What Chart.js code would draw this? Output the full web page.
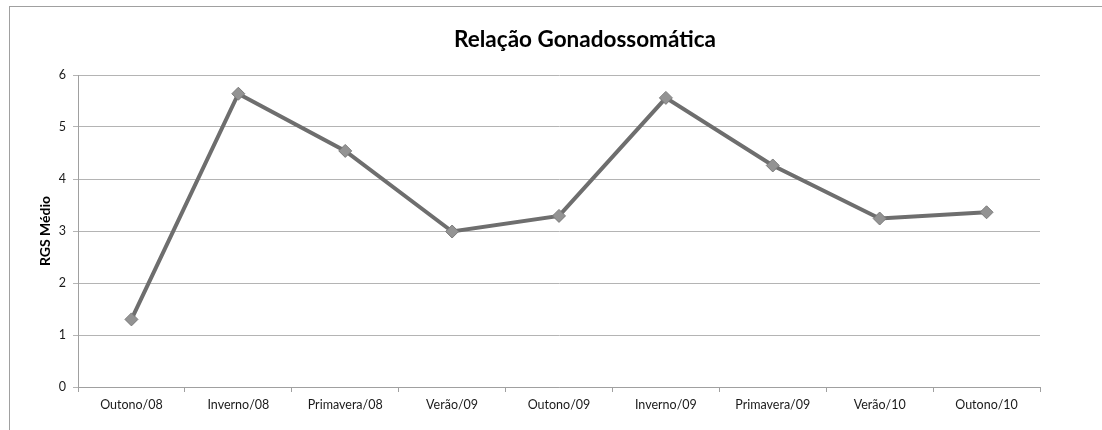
<!DOCTYPE html>
<html>
<head>
<meta charset="utf-8">
<script src="https://cdn.jsdelivr.net/npm/chart.js@4.4.0/dist/chart.umd.min.js"></script>
<style>
  html, body { margin: 0; padding: 0; background: #fff; overflow: hidden; }
  #frame { position: absolute; left: 9px; top: 6px; width: 1200px; height: 500px;
           border-left: 1px solid #a0a0a0; border-top: 1px solid #a0a0a0; }
  #wrap { position: absolute; left: 0; top: 0; width: 1102px; height: 430px; }
</style>
</head>
<body>
<div id="frame"></div>
<div id="wrap"><canvas id="rgsChart"></canvas></div>
<script>
// ---- data ----
var categories = ["Outono/08", "Inverno/08", "Primavera/08", "Verão/09", "Outono/09",
                  "Inverno/09", "Primavera/09", "Verão/10", "Outono/10"];
var rgsValues = [1.30, 5.64, 4.54, 2.99, 3.29, 5.56, 4.26, 3.24, 3.36];
var yTicks = [0, 1, 2, 3, 4, 5, 6];
var chartTitle = "Relação Gonadossomática";
var yAxisTitle = "RGS Médio";

// ---- styles ----
var lineColor = "#6e6e6e";
var markerColor = "#939393";
var gridColor = "#b4b4b4";
var axisColor = "#a0a0a0";
var labelFont = { family: "Lato", size: 12.5 };

// title is centred on the whole framed chart, which runs past the window
var titlePlugin = {
    id: "frameTitle",
    afterDraw: function (chart) {
        var ctx = chart.ctx;
        ctx.save();
        ctx.font = "bold 22.5px Lato";
        ctx.fillStyle = "#000";
        ctx.textAlign = "center";
        ctx.textBaseline = "alphabetic";
        ctx.fillText(chartTitle, 585, 47);
        ctx.restore();
    }
};

var ctx = document.getElementById("rgsChart").getContext("2d");
var rgsChart = new Chart(ctx, {
    type: "line",
    data: {
        labels: categories,
        datasets: [{
            label: yAxisTitle,
            data: rgsValues,
            borderColor: lineColor,
            borderWidth: 4,
            tension: 0,
            pointStyle: "rectRot",
            pointRadius: 6.5,
            pointBackgroundColor: markerColor,
            pointBorderColor: "#7a7a7a",
            pointBorderWidth: 1
        }]
    },
    options: {
        responsive: true,
        maintainAspectRatio: false,
        animation: false,
        layout: { padding: { left: 0, right: 62, top: 75, bottom: 0 } },
        plugins: {
            legend: { display: false },
            tooltip: { enabled: false },
            title: { display: false }
        },
        scales: {
            x: {
                type: "category",
                offset: true,
                afterFit: function (scale) { scale.height = 43; },
                grid: { offset: true, drawOnChartArea: false, drawTicks: true,
                        tickLength: 5, color: axisColor },
                border: { color: axisColor },
                ticks: { font: labelFont, color: "#1a1a1a", padding: 5, maxRotation: 0, autoSkip: false }
            },
            y: {
                min: yTicks[0],
                max: yTicks[yTicks.length - 1],
                afterFit: function (scale) { scale.width = 78; },
                afterBuildTicks: function (scale) {
                    scale.ticks = yTicks.map(function (v) { return { value: v }; });
                },
                grid: { color: gridColor, tickLength: 5 },
                border: { color: axisColor },
                ticks: { font: labelFont, color: "#1a1a1a", padding: 7 },
                title: {
                    display: true,
                    text: yAxisTitle,
                    font: { family: "Lato", size: 14, weight: "bold" },
                    color: "#000",
                    padding: { top: 37, bottom: 0 }
                }
            }
        }
    },
    plugins: [titlePlugin]
});
</script>
</body>
</html>
